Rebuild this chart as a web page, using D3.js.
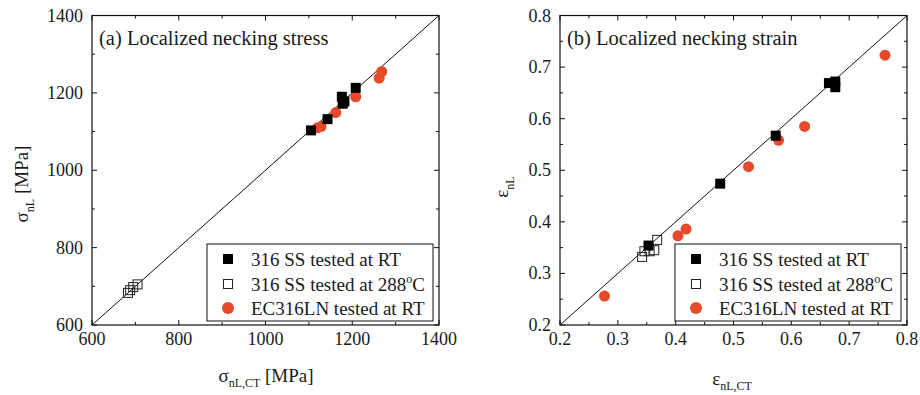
<!DOCTYPE html>
<html>
<head>
<meta charset="utf-8">
<script src="https://cdn.jsdelivr.net/npm/d3@7"></script>
<style>
  body { margin: 0; background: #fff; }
  text { font-family: "Liberation Serif", "Times New Roman", Times, serif; fill: #1a1a1a; }
</style>
</head>
<body>
<div id="chart"></div>
<script>
// ---- data ----
// (a) localized necking stress [MPa]: [sigma_nL,CT, sigma_nL]
const stressRT = [[1105, 1103], [1143, 1132], [1176, 1190], [1178, 1172], [1182, 1178], [1208, 1213]];
const stress288 = [[683, 683], [688, 690], [695, 698], [705, 705]];
const stressEC = [[1120, 1110], [1128, 1113], [1162, 1149], [1208, 1190], [1262, 1238], [1268, 1255]];

// (b) localized necking strain: [eps_nL,CT, eps_nL]
const strainRT = [[0.477, 0.474], [0.353, 0.354], [0.573, 0.567], [0.665, 0.669], [0.676, 0.672], [0.676, 0.661]];
const strain288 = [[0.342, 0.332], [0.346, 0.343], [0.355, 0.343], [0.363, 0.345], [0.368, 0.365]];
const strainEC = [[0.277, 0.256], [0.404, 0.373], [0.418, 0.386], [0.526, 0.507], [0.578, 0.558], [0.623, 0.585], [0.762, 0.723]];

const legendLabels = ["316 SS tested at RT", "316 SS tested at 288", "EC316LN tested at RT"];
const red = "#e8492a";

const width = 920, height = 395;
const svg = d3.select("#chart").append("svg")
  .attr("width", width)
  .attr("height", height)
  .attr("font-family", "Liberation Serif, Times New Roman, serif");

function panel(opt) {
  const x = d3.scaleLinear().domain(opt.domain).range([opt.left, opt.left + 347]);
  const y = d3.scaleLinear().domain(opt.domain).range([325, 15.5]);
  const g = svg.append("g");

  // diagonal 1:1 line
  g.append("line")
    .attr("x1", x(opt.domain[0])).attr("y1", y(opt.domain[0]))
    .attr("x2", x(opt.domain[1])).attr("y2", y(opt.domain[1]))
    .attr("stroke", "#111").attr("stroke-width", 1);

  // ticks, inward on all four sides
  const minor = d3.range(opt.domain[0], opt.domain[1] + opt.minor / 2, opt.minor);
  minor.forEach((v, i) => {
    const len = i % 2 === 0 ? 5 : 3;
    g.append("line").attr("x1", x(v)).attr("x2", x(v)).attr("y1", 325).attr("y2", 325 - len).attr("stroke", "#111");
    g.append("line").attr("x1", x(v)).attr("x2", x(v)).attr("y1", 15.5).attr("y2", 15.5 + len).attr("stroke", "#111");
    g.append("line").attr("y1", y(v)).attr("y2", y(v)).attr("x1", x.range()[0]).attr("x2", x.range()[0] + len).attr("stroke", "#111");
    g.append("line").attr("y1", y(v)).attr("y2", y(v)).attr("x1", x.range()[1]).attr("x2", x.range()[1] - len).attr("stroke", "#111");
  });

  // tick labels
  const major = minor.filter((d, i) => i % 2 === 0);
  major.forEach(v => {
    g.append("text").attr("x", x(v)).attr("y", 345)
      .attr("text-anchor", "middle").attr("font-size", 18).text(opt.fmt(v));
    g.append("text").attr("x", x.range()[0] - 9).attr("y", y(v) + 6)
      .attr("text-anchor", "end").attr("font-size", 18).text(opt.fmt(v));
  });

  // frame
  g.append("rect")
    .attr("x", x.range()[0]).attr("y", 15.5)
    .attr("width", x.range()[1] - x.range()[0]).attr("height", 325 - 15.5)
    .attr("fill", "none").attr("stroke", "#111").attr("stroke-width", 1.2);

  // panel title
  g.append("text").attr("x", x.range()[0] + 7).attr("y", 45)
    .attr("font-size", 20.5).text(opt.title);

  // axis titles
  const xt = g.append("text").attr("x", opt.xTitleX).attr("y", opt.xTitleY)
    .attr("text-anchor", "middle").attr("font-size", 19);
  xt.append("tspan").text(opt.sym);
  xt.append("tspan").attr("font-size", 12).attr("dy", 5).text("nL,CT");
  if (opt.unit) xt.append("tspan").attr("dy", -5).text(" " + opt.unit);

  const yt = g.append("text")
    .attr("transform", `translate(${opt.yTitleX},${opt.yTitleY}) rotate(-90)`)
    .attr("text-anchor", "middle").attr("font-size", 19);
  yt.append("tspan").text(opt.sym);
  yt.append("tspan").attr("font-size", 12).attr("dy", 6).text("nL");
  if (opt.unit) yt.append("tspan").attr("dy", -6).text(" " + opt.unit);

  // markers
  g.selectAll(".ec").data(opt.ec).enter().append("circle")
    .attr("cx", d => x(d[0])).attr("cy", d => y(d[1])).attr("r", 5.5)
    .attr("fill", red);
  g.selectAll(".hot").data(opt.hot).enter().append("rect")
    .attr("x", d => x(d[0]) - 4.5).attr("y", d => y(d[1]) - 4.5)
    .attr("width", 9).attr("height", 9)
    .attr("fill", "none").attr("stroke", "#222").attr("stroke-width", 1);
  g.selectAll(".rt").data(opt.rt).enter().append("rect")
    .attr("x", d => x(d[0]) - 5).attr("y", d => y(d[1]) - 5)
    .attr("width", 10).attr("height", 10)
    .attr("fill", "#000");

  // legend
  const lx = opt.legendX, ly = 244;
  const lg = g.append("g").attr("transform", `translate(${lx},${ly})`);
  lg.append("rect").attr("width", 226).attr("height", 77)
    .attr("fill", "#fff").attr("stroke", "#111").attr("stroke-width", 1);
  const rows = [15, 40, 64];
  lg.append("rect").attr("x", 16).attr("y", rows[0] - 5).attr("width", 10).attr("height", 10).attr("fill", "#000");
  lg.append("rect").attr("x", 16.5).attr("y", rows[1] - 4.5).attr("width", 9).attr("height", 9)
    .attr("fill", "none").attr("stroke", "#222");
  lg.append("circle").attr("cx", 21).attr("cy", rows[2]).attr("r", 6).attr("fill", red);
  legendLabels.forEach((t, i) => {
    const tx = lg.append("text").attr("x", 44).attr("y", rows[i] + 6.5).attr("font-size", 19).text(t);
    if (i === 1) {
      tx.append("tspan").attr("font-size", 12).attr("dy", -8).text("o");
      tx.append("tspan").attr("dy", 8).text("C");
    }
  });
}

panel({
  domain: [600, 1400], minor: 100, left: 92,
  fmt: d3.format("d"),
  title: "(a) Localized necking stress",
  sym: "σ", unit: "[MPa]",
  xTitleX: 266, xTitleY: 382, yTitleX: 28, yTitleY: 184,
  rt: stressRT, hot: stress288, ec: stressEC,
  legendX: 207
});

panel({
  domain: [0.2, 0.8], minor: 0.05, left: 560,
  fmt: d3.format(".1f"),
  title: "(b) Localized necking strain",
  sym: "ε", unit: null,
  xTitleX: 732, xTitleY: 385, yTitleX: 508, yTitleY: 187,
  rt: strainRT, hot: strain288, ec: strainEC,
  legendX: 675
});
</script>
</body>
</html>
